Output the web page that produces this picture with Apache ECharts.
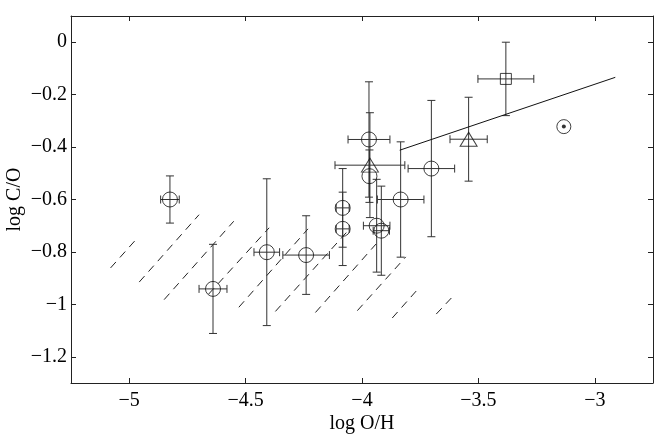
<!DOCTYPE html>
<html>
<head>
<meta charset="utf-8">
<script src="https://cdn.jsdelivr.net/npm/echarts@6/dist/echarts.min.js"></script>
<style>html,body{margin:0;padding:0;background:#fff}#c{width:659px;height:435px}</style>
</head>
<body>
<div id="c"></div>
<script>
// ---- data ----
const xTicks = [-5, -4.5, -4, -3.5, -3];
const yTicks = [0, -0.2, -0.4, -0.6, -0.8, -1, -1.2];

// circles: log O/H, log C/O, half error in x, half error in y
const circleX    = [-4.825, -4.640, -4.409, -4.240, -4.083, -4.083, -3.970, -3.968, -3.937, -3.917, -3.834, -3.702];
const circleY    = [-0.600, -0.941, -0.801, -0.812, -0.632, -0.712, -0.371, -0.511, -0.700, -0.719, -0.600, -0.482];
const circleXErr = [0.040, 0.060, 0.055, 0.100, 0.028, 0.028, 0.090, 0.000, 0.057, 0.035, 0.100, 0.100];
const circleYErr = [0.090, 0.170, 0.280, 0.150, 0.150, 0.140, 0.220, 0.100, 0.177, 0.170, 0.220, 0.260];

// triangles
const triX    = [-3.966, -3.542];
const triY    = [-0.469, -0.370];
const triXErr = [0.150, 0.080];
const triYErr = [0.200, 0.160];

// square
const sqX    = [-3.382];
const sqY    = [-0.140];
const sqXErr = [0.120];
const sqYErr = [0.140];

// solar symbol
const sunX = [-3.133];
const sunY = [-0.322];

// solid line
const fitX = [-3.838, -2.912];
const fitY = [-0.412, -0.134];

// dashed hatch segments (start / end points)
const hatchX0 = [-5.080, -4.957, -4.850, -4.659, -4.529, -4.372, -4.200, -4.020, -3.870, -3.681];
const hatchY0 = [-0.861, -0.915, -0.982, -0.961, -1.011, -1.027, -1.031, -1.024, -1.052, -1.037];
const hatchX1 = [-4.961, -4.700, -4.551, -4.399, -4.232, -4.053, -3.940, -3.812, -3.752, -3.609];
const hatchY1 = [-0.743, -0.658, -0.683, -0.708, -0.712, -0.712, -0.770, -0.819, -0.934, -0.969];

// ---- build ----
const ink = '#111';
const errColor = '#333';
const font = 'Liberation Serif';
const fs = 20;

function rows(xs, ys, ex, ey) { return xs.map((x, i) => [x, ys[i], ex[i], ey[i]]); }
const errRows = [].concat(
  rows(circleX, circleY, circleXErr, circleYErr),
  rows(triX, triY, triXErr, triYErr),
  rows(sqX, sqY, sqXErr, sqYErr)
);
const hatchRows = hatchX0.map((x, i) => [x, hatchY0[i], hatchX1[i], hatchY1[i]]);

const minus = v => String(v).replace('-', '\u2212');
const CAP = 4;

function errItem(params, api) {
  const x = api.value(0), y = api.value(1), ex = api.value(2), ey = api.value(3);
  const st = { stroke: errColor, lineWidth: 1 };
  const ch = [];
  if (ey > 0) {
    const a = api.coord([x, y + ey]), b = api.coord([x, y - ey]);
    ch.push({ type: 'line', shape: { x1: a[0], y1: a[1], x2: b[0], y2: b[1] }, style: st });
    ch.push({ type: 'line', shape: { x1: a[0] - CAP, y1: a[1], x2: a[0] + CAP, y2: a[1] }, style: st });
    ch.push({ type: 'line', shape: { x1: b[0] - CAP, y1: b[1], x2: b[0] + CAP, y2: b[1] }, style: st });
  }
  if (ex > 0) {
    const a = api.coord([x - ex, y]), b = api.coord([x + ex, y]);
    ch.push({ type: 'line', shape: { x1: a[0], y1: a[1], x2: b[0], y2: b[1] }, style: st });
    ch.push({ type: 'line', shape: { x1: a[0], y1: a[1] - CAP, x2: a[0], y2: a[1] + CAP }, style: st });
    ch.push({ type: 'line', shape: { x1: b[0], y1: b[1] - CAP, x2: b[0], y2: b[1] + CAP }, style: st });
  }
  return { type: 'group', children: ch };
}

function hatchItem(params, api) {
  const a = api.coord([api.value(0), api.value(1)]);
  const b = api.coord([api.value(2), api.value(3)]);
  return { type: 'line', shape: { x1: a[0], y1: a[1], x2: b[0], y2: b[1] },
           style: { stroke: '#222', lineWidth: 1, lineDash: [8, 6] } };
}

const axisCommon = {
  type: 'value',
  axisLine: { show: true, onZero: false, lineStyle: { color: '#222', width: 1 } },
  splitLine: { show: false },
};

const option = {
  animation: false,
  backgroundColor: '#fff',
  grid: { left: 71, right: 6, top: 16, bottom: 52, containLabel: false, outerBoundsMode: 'none' },
  xAxis: [
    Object.assign({}, axisCommon, {
      min: -5.25, max: -2.75, position: 'bottom',
      name: 'log O/H', nameLocation: 'middle', nameGap: 31, nameMoveOverlap: false,
      nameTextStyle: { fontFamily: font, fontSize: fs, color: '#000' },
      axisTick: { show: true, inside: true, length: 5, customValues: xTicks, lineStyle: { color: '#222' } },
      axisLabel: { show: true, customValues: xTicks, margin: 8, formatter: minus,
                   fontFamily: font, fontSize: fs, color: '#000' }
    }),
    Object.assign({}, axisCommon, {
      min: -5.25, max: -2.75, position: 'top',
      axisTick: { show: true, inside: true, length: 5, customValues: xTicks, lineStyle: { color: '#222' } },
      axisLabel: { show: false }
    })
  ],
  yAxis: [
    Object.assign({}, axisCommon, {
      min: -1.3, max: 0.1, position: 'left',
      name: 'log C/O', nameLocation: 'middle', nameGap: 46, nameRotate: 90, nameMoveOverlap: false,
      nameTextStyle: { fontFamily: font, fontSize: fs, color: '#000' },
      axisTick: { show: true, inside: true, length: 5, customValues: yTicks, lineStyle: { color: '#222' } },
      axisLabel: { show: true, customValues: yTicks, margin: 4, formatter: minus,
                   fontFamily: font, fontSize: fs, color: '#000' }
    }),
    Object.assign({}, axisCommon, {
      min: -1.3, max: 0.1, position: 'right',
      axisTick: { show: true, inside: true, length: 5, customValues: yTicks, lineStyle: { color: '#222' } },
      axisLabel: { show: false }
    })
  ],
  series: [
    { type: 'custom', renderItem: hatchItem, data: hatchRows, encode: { x: [0, 2], y: [1, 3] }, z: 1, silent: true },
    { type: 'custom', renderItem: errItem, data: errRows, encode: { x: 0, y: 1 }, z: 2, silent: true },
    { type: 'line', data: fitX.map((x, i) => [x, fitY[i]]), showSymbol: false, symbol: 'none',
      lineStyle: { color: ink, width: 1 }, z: 3, silent: true },
    { type: 'scatter', data: circleX.map((x, i) => [x, circleY[i]]), symbol: 'circle', symbolSize: 15,
      itemStyle: { color: 'rgba(0,0,0,0)', borderColor: ink, borderWidth: 1 }, z: 4, silent: true },
    { type: 'scatter', data: triX.map((x, i) => [x, triY[i]]), symbol: 'triangle', symbolSize: [17, 14],
      itemStyle: { color: 'rgba(0,0,0,0)', borderColor: ink, borderWidth: 1 }, z: 4, silent: true },
    { type: 'scatter', data: sqX.map((x, i) => [x, sqY[i]]), symbol: 'rect', symbolSize: 11,
      itemStyle: { color: 'rgba(0,0,0,0)', borderColor: ink, borderWidth: 1 }, z: 4, silent: true },
    { type: 'scatter', data: sunX.map((x, i) => [x, sunY[i]]), symbol: 'circle', symbolSize: 14,
      itemStyle: { color: 'rgba(0,0,0,0)', borderColor: ink, borderWidth: 1 }, z: 4, silent: true },
    { type: 'scatter', data: sunX.map((x, i) => [x, sunY[i]]), symbol: 'circle', symbolSize: 4,
      itemStyle: { color: '#000' }, z: 5, silent: true }
  ]
};

echarts.init(document.getElementById('c'), null, { renderer: 'canvas' }).setOption(option);
</script>
</body>
</html>
